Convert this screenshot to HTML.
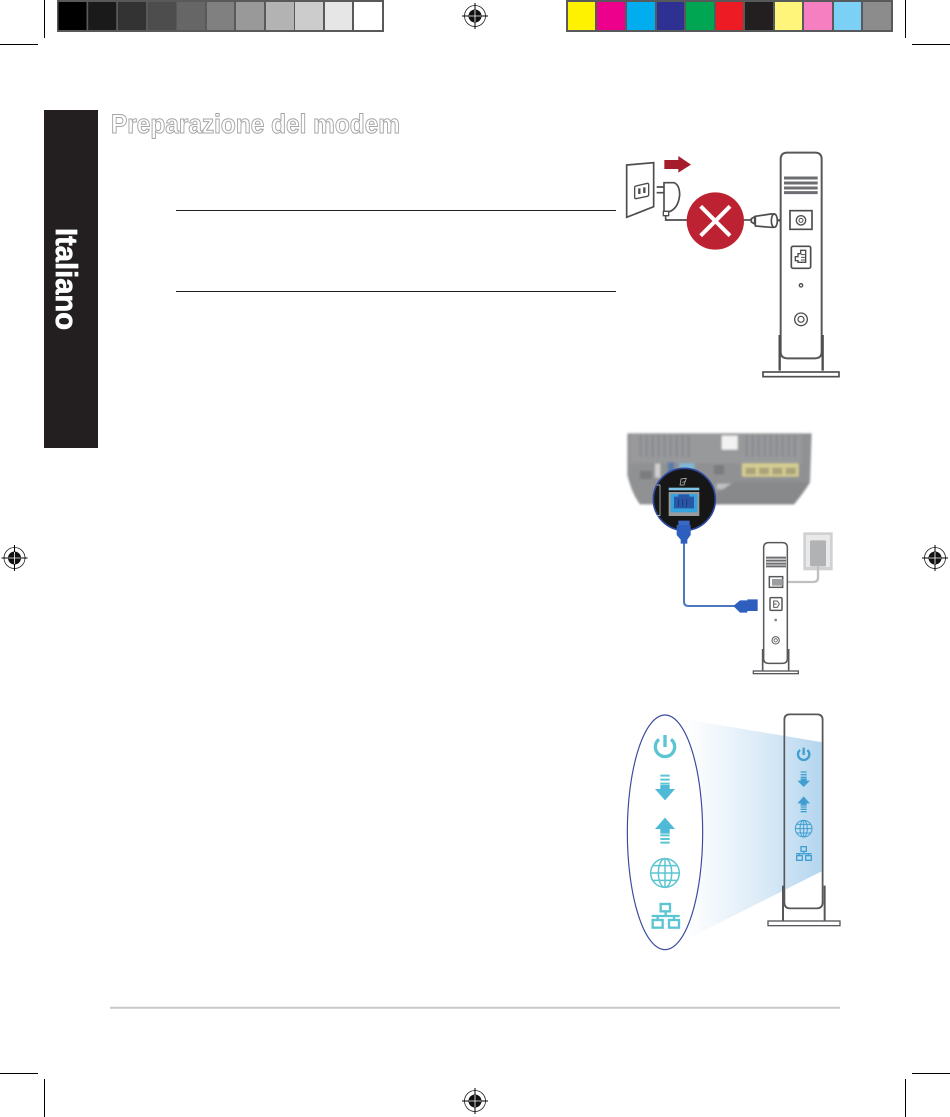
<!DOCTYPE html>
<html><head><meta charset="utf-8"><style>
html,body{margin:0;padding:0;background:#fff}
svg{display:block}
text{font-family:"Liberation Sans",sans-serif}
</style></head><body>
<svg xmlns="http://www.w3.org/2000/svg" width="950" height="1117" viewBox="0 0 950 1117">
<defs>
<g id="reg"><circle r="10.5" fill="#fff" stroke="#222" stroke-width=".8"/><circle r="6.5" fill="#111"/><path d="M-13 0H13M0-13V13" stroke="#000" stroke-width="1"/><path d="M-6 0H6M0-6V6" stroke="#fff" stroke-width=".8"/></g>
<linearGradient id="beam" x1="0" y1="0" x2="1" y2="0"><stop offset="0" stop-color="#fff"/><stop offset=".22" stop-color="#f3f8fc"/><stop offset=".6" stop-color="#d8e9f6"/><stop offset="1" stop-color="#b3d5ee"/></linearGradient>
<filter id="b" x="-5%" y="-5%" width="110%" height="110%"><feGaussianBlur stdDeviation="3.500"/></filter>
<filter id="s" x="-5%" y="-5%" width="110%" height="110%"><feGaussianBlur stdDeviation="1"/></filter>
</defs>
<rect width="950" height="1117" fill="#fff"/>
<!-- crop marks -->
<g stroke="#000" stroke-width="1" fill="none">
<path d="M44.500 0V38M0 44.500H38M905.500 0V38M912 44.500H950M0 1073.500H38M44.500 1079V1117M912 1073.500H950M905.500 1079V1117"/>
</g>
<!-- colour bars -->
<rect x="57" y="0" width="327" height="32" fill="#58595b"/>
<g>
<rect x="58.500" y="2" width="28" height="28" fill="#000"/>
<rect x="88.200" y="2" width="28" height="28" fill="#1a1a1a"/>
<rect x="118" y="2" width="28" height="28" fill="#333"/>
<rect x="148" y="2" width="28" height="28" fill="#4d4d4d"/>
<rect x="177" y="2" width="28" height="28" fill="#666"/>
<rect x="207" y="2" width="27" height="28" fill="#808080"/>
<rect x="236" y="2" width="28" height="28" fill="#999"/>
<rect x="266" y="2" width="28" height="28" fill="#b3b3b3"/>
<rect x="295" y="2" width="28" height="28" fill="#ccc"/>
<rect x="325" y="2" width="27" height="28" fill="#e6e6e6"/>
<rect x="354" y="2" width="28" height="28" fill="#fff"/>
</g>
<rect x="566" y="0" width="327" height="32" fill="#58595b"/>
<g>
<rect x="568" y="2" width="27" height="28" fill="#fff200"/>
<rect x="597" y="2" width="28" height="28" fill="#ec008c"/>
<rect x="627" y="2" width="28" height="28" fill="#00aeef"/>
<rect x="657" y="2" width="27" height="28" fill="#2e3192"/>
<rect x="686" y="2" width="28" height="28" fill="#00a651"/>
<rect x="716" y="2" width="27" height="28" fill="#ed1c24"/>
<rect x="745" y="2" width="28" height="28" fill="#231f20"/>
<rect x="775" y="2" width="27" height="28" fill="#fff57a"/>
<rect x="804" y="2" width="28" height="28" fill="#f57fc0"/>
<rect x="834" y="2" width="27" height="28" fill="#7dd0f5"/>
<rect x="863" y="2" width="28" height="28" fill="#8c8c8c"/>
</g>
<use href="#reg" x="475" y="16"/>
<use href="#reg" x="14.500" y="558"/>
<use href="#reg" x="935" y="558"/>
<use href="#reg" x="475" y="1101"/>
<!-- sidebar -->
<rect x="44" y="110" width="54" height="338" fill="#231f20"/>
<text transform="translate(56,228) rotate(90)" font-size="31" font-weight="700" fill="#fff" stroke="#fff" stroke-width=".7" textLength="102" lengthAdjust="spacingAndGlyphs">Italiano</text>
<!-- title -->
<text x="111" y="133" font-size="27" font-weight="700" fill="#fff" stroke="#a4a4a4" stroke-width="1" textLength="289" lengthAdjust="spacingAndGlyphs">Preparazione del modem</text>
<!-- rules -->
<path d="M176 210.500H616M176 291.500H616" stroke="#231f20" stroke-width="1"/>
<path d="M110 1007.700H840" stroke="#c8c8c8" stroke-width="2"/>

<!-- Diagram 1 -->
<g transform="translate(610,140) scale(.33333)" fill="none" stroke="#4d4d4f" stroke-width="5" filter="url(#s)">
<path d="M50 75L131 68V200L50 232Z"/>
<path d="M78 138L112 130Q116 130 116 134V164Q116 168 112 169L78 176Q74 176 74 172V142Q74 139 78 138Z" stroke-width="4"/>
<path d="M88 145V162M103 142V159" stroke-width="7"/>
<path d="M163 60H205V48L243 74L205 98V87H163Z" fill="#a51e2c" stroke="none"/>
<path d="M140 141H162M140 158H162" stroke-width="5"/>
<path d="M162 128H192Q209 135 209 165Q205 205 178 215H162Z" fill="#fff"/>
<path d="M160 214H176V227H160Z" fill="#fff" stroke-width="4"/>
<path d="M167 227V240H240" stroke-width="5"/>
<circle cx="316" cy="243" r="86" fill="#bc2430" stroke="none"/>
<path d="M272 199L360 287M360 199L272 287" stroke="#fff" stroke-width="12"/>
<path d="M402 240H424" stroke-width="5"/>
<path d="M424 236L434 230V252L424 246Z" fill="#fff"/>
<path d="M436 229L482 222H492Q503 242 492 262H482L436 258Z" fill="#fff"/>
<ellipse cx="493" cy="242" rx="9" ry="20" fill="#fff"/>
<path d="M502 241H536" stroke-width="7"/>
<path d="M512 58Q512 38 532 38H615Q635 38 635 58V635Q635 655 615 655H532Q512 655 512 635Z" fill="#fff" stroke="#58595b" stroke-width="6"/>
<path d="M522 114H623M522 129H623M522 144H623M522 158H623" stroke="#6d6e71" stroke-width="9"/>
<rect x="540" y="212" width="66" height="56" stroke-width="5"/>
<circle cx="573" cy="241" r="14" stroke-width="4"/><circle cx="573" cy="241" r="6" stroke-width="3"/>
<rect x="544" y="319" width="58" height="66" rx="5" stroke-width="5"/>
<path d="M587 331H572V341H564V350H556V362H564V367H587Z" stroke-width="4"/>
<path d="M573 344H587M573 352H587M573 360H587" stroke-width="3"/>
<circle cx="573" cy="436" r="5" stroke-width="4"/>
<circle cx="573" cy="538" r="19" stroke-width="4"/><circle cx="573" cy="538" r="9" stroke-width="3.500"/>
<path d="M509 585V692M638 585V692" stroke-width="7"/>
<rect x="459" y="696" width="228" height="14" fill="#fff" stroke-width="5"/>
</g>

<!-- Diagram 2: router -->
<g transform="translate(620,425) scale(.33333)">
<g filter="url(#b)">
<path d="M22 25H575L570 172Q550 205 522 238H60Q35 205 22 150Z" fill="#909193"/>
<rect x="30" y="25" width="515" height="90" fill="#98999b"/>
<path d="M62 30V95M80 30V95M98 30V95M116 30V95M134 30V95M152 30V95M170 30V95M188 30V95M206 30V95M380 30V95M398 30V95M416 30V95M434 30V95M452 30V95M470 30V95M488 30V95M506 30V95M524 30V95" stroke="#85868a" stroke-width="5"/>
<rect x="305" y="32" width="48" height="42" fill="#f2f2f2"/>
<rect x="366" y="115" width="170" height="40" fill="#d5cd90"/>
<rect x="377" y="128" width="30" height="20" fill="#a9a27a"/><rect x="417" y="128" width="30" height="20" fill="#a9a27a"/><rect x="457" y="128" width="30" height="20" fill="#a9a27a"/><rect x="497" y="128" width="30" height="20" fill="#a9a27a"/>
<rect x="282" y="120" width="30" height="28" fill="#7b7c7e"/>
<rect x="105" y="116" width="16" height="42" fill="#cfcfcf"/>
<rect x="143" y="112" width="20" height="46" fill="#5c7ca8"/>
<rect x="178" y="115" width="45" height="40" fill="#7fb8d8"/>
<rect x="60" y="138" width="35" height="24" fill="#7a7b7d"/>
<rect x="290" y="176" width="45" height="17" fill="#bfc0c2"/>
<path d="M340 172H570L522 238H240Z" fill="#88898b"/>
</g>
<g filter="url(#s)">
<circle cx="193" cy="223" r="93" fill="#131314" stroke="#2f4a9e" stroke-width="5"/>
<path d="M110 180H120V272H110" fill="none" stroke="#ddd" stroke-width="2"/>
<rect x="146" y="188" width="92" height="8" fill="#7fc4e6"/>
<rect x="146" y="201" width="92" height="72" fill="#9a9b9d"/>
<rect x="152" y="207" width="80" height="55" fill="#36a3dd"/>
<path d="M162 215H175V208H208V215H222V250H162Z" fill="#2957a8"/>
<path d="M176 222V245M188 222V245M200 222V245" stroke="#1b3a7a" stroke-width="3"/>
<path d="M183 162L199 160L192 180H180ZM186 172Q196 170 196 168" fill="none" stroke="#ccc" stroke-width="2"/>
<path d="M175 287H209V320L199 332V342H185V332L175 320Z" fill="#3a67c4"/>
<path d="M192 340V395" stroke="#3f6bb5" stroke-width="5" fill="none"/>
</g>
</g>

<!-- Diagram 2: modem -->
<g transform="translate(660,525) scale(.33333)" fill="none" stroke="#58595b" stroke-width="4.500" filter="url(#s)">
<rect x="430" y="22" width="88" height="114" fill="#d0d1d2" stroke="none"/>
<rect x="438" y="30" width="72" height="96" fill="#e9e9ea" stroke="none"/>
<rect x="450" y="46" width="48" height="78" rx="4" fill="#b1b2b4" stroke="none"/>
<path d="M474 124V158Q474 171 460 171H366" stroke="#bfc0c1" stroke-width="7"/>
<path d="M72 55V230Q72 243 85 243H225" stroke="#4e78c0" stroke-width="6"/>
<path d="M50 0H92V30L82 44V56H62V44L50 30Z" fill="#2f5fbf" stroke="none"/>
<path d="M220 243L240 226H262V223H293V258H262V263H240Z" fill="#2f5fbf" stroke="none"/>
<path d="M311 68Q311 53 326 53H367Q382 53 382 68V402Q382 415 367 415H326Q311 415 311 402Z" fill="#fff"/>
<path d="M318 98H378M318 107H378M318 116H378M318 124H378" stroke="#6d6e71" stroke-width="6"/>
<rect x="328" y="155" width="40" height="32"/>
<rect x="336" y="162" width="32" height="20" fill="#9c9d9f" stroke="none"/>
<rect x="330" y="218" width="36" height="38" rx="3"/>
<path d="M341 228H352L358 237L352 247H341ZM341 237H350" stroke-width="3"/>
<circle cx="347" cy="285" r="4" fill="#808285" stroke="none"/>
<circle cx="347" cy="346" r="11" stroke-width="3"/><circle cx="347" cy="346" r="5" stroke-width="2.500"/>
<path d="M308 372V436M386 372V436" stroke-width="5"/>
<rect x="280" y="438" width="135" height="8" fill="#fff" stroke-width="4"/>
</g>

<!-- Diagram 3 -->
<g transform="translate(620,705) scale(.33333)" filter="url(#s)">
<path d="M510 28Q493 28 493 45V592Q493 610 510 610H590Q608 610 608 592V45Q608 28 590 28Z" fill="#fff" stroke="#58595b" stroke-width="5"/>
<path d="M190 42L609 112V497L190 708Z" fill="url(#beam)"/>
<path d="M510 28Q493 28 493 45V592Q493 610 510 610H590Q608 610 608 592V45Q608 28 590 28Z" fill="none" stroke="#58595b" stroke-width="5"/>
<path d="M489 542V648M614 542V648" stroke="#58595b" stroke-width="6" fill="none"/>
<rect x="444" y="648" width="216" height="14" fill="#fff" stroke="#58595b" stroke-width="4"/>
<ellipse cx="135" cy="382" rx="113" ry="352" fill="#fff" stroke="#3a4a9f" stroke-width="3.500"/>
<!-- big icons -->
<g fill="none" stroke="#5cc5d3" stroke-width="7">
<path d="M117 103A29 29 0 1 0 153 103" stroke-width="10"/>
<path d="M135 90V126" stroke-width="10"/>
<path d="M121 212H149M121 224H149M121 236H149" stroke-width="6"/>
<path d="M121 240H149V252H165L135 286L105 252H121Z" fill="#4fb9d8" stroke="none"/>
<path d="M135 338L165 372H149V386H121V372H105Z" fill="#4fb9d8" stroke="none"/>
<path d="M121 391H149M121 402H149M121 413H149" stroke-width="6"/>
<g stroke-width="4.500"><circle cx="135" cy="504" r="43"/><ellipse cx="135" cy="504" rx="20" ry="43"/><path d="M135 461V547M92 504H178M98 482H172M98 526H172"/></g>
<g stroke-width="7"><rect x="122" y="597" width="28" height="22"/><rect x="98" y="645" width="30" height="23"/><rect x="147" y="645" width="30" height="23"/><path d="M137 619V633M95 633H179M113 633V645M162 633V645"/></g>
</g>
<!-- small icons -->
<g fill="none" stroke="#3f9fd0" stroke-width="5">
<path d="M540 135A17 17 0 1 0 562 135" stroke-width="7"/><path d="M551 128V150" stroke-width="7"/>
<path d="M542 201H560M542 209H560M542 217H560" stroke-width="4"/>
<path d="M542 220H560V227H570L551 246L532 227H542Z" fill="#3f9fd0" stroke="none"/>
<path d="M551 274L570 295H560V302H542V295H532Z" fill="#3f9fd0" stroke="none"/>
<path d="M542 306H560M542 313H560M542 320H560" stroke-width="4"/>
<g stroke-width="3"><circle cx="551" cy="371" r="25"/><ellipse cx="551" cy="371" rx="11" ry="25"/><path d="M551 346V396M526 371H576M530 358H572M530 384H572"/></g>
<g stroke-width="4"><rect x="543" y="425" width="16" height="14"/><rect x="530" y="452" width="17" height="14"/><rect x="557" y="452" width="17" height="14"/><path d="M551 439V446M528 446H575M538 446V452M565 446V452"/></g>
</g>
</g>
</svg>
</body></html>
